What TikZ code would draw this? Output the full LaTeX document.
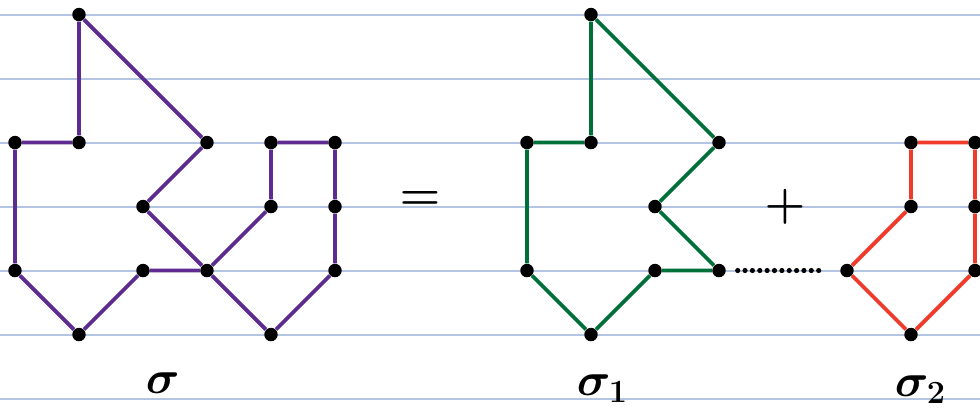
\documentclass[tikz,border=0pt]{standalone}
\usetikzlibrary{positioning}
\definecolor{ruleblue}{HTML}{B3C5E0}
\definecolor{pathpurple}{HTML}{5E2C91}
\definecolor{pathgreen}{HTML}{00703A}
\definecolor{pathred}{HTML}{EE3B2B}
\tikzset{
  ruleline/.style={draw=ruleblue, line width=0.9pt},
  vertex/.style={circle, fill=black, inner sep=0pt, minimum size=2.1mm},
  purpleedge/.style={draw=pathpurple, line width=1.7pt},
  greenedge/.style={draw=pathgreen, line width=1.7pt},
  rededge/.style={draw=pathred, line width=1.7pt},
  dotrow/.style={draw=black, line width=2.3pt, line cap=round,
    dash pattern=on 0pt off 0.115cm, shorten <=0.18cm, shorten >=0.27cm},
  bigsym/.style={font=\fontsize{22}{26}\selectfont\boldmath, inner sep=0pt}
}
\begin{document}
\begin{tikzpicture}[x=1cm, y=-1cm]
    \useasboundingbox (-0.234,-0.227) rectangle (15.078,6.195);

    % ruled paper
    \foreach \r in {0,...,6}
        \draw[ruleline] (-0.234,\r) -- (15.078,\r);

    % sigma
    \foreach \n/\x/\y in {sa/1/0, sb/1/2, sc/0/2, sd/0/4, se/1/5, sf/2/4, sg/3/4, sh/2/3,
                          si/3/2, sj/4/2, sk/5/2, sl/4/3, sm/5/3, sn/5/4, so/4/5}
        \node[vertex] (\n) at (\x,\y) {};
    \draw[purpleedge] (sa) -- (sb) -- (sc) -- (sd) -- (se) -- (sf) -- (sg);
    \draw[purpleedge] (sa) -- (si) -- (sh) -- (sg);
    \draw[purpleedge] (sg) -- (sl) -- (sj) -- (sk) -- (sm) -- (sn) -- (so) -- (sg);

    % sigma_1
    \foreach \n/\x/\y in {pa/9/0, pb/9/2, pc/8/2, pd/8/4, pe/9/5, pf/10/4, pg/11/4,
                          ph/10/3, pi/11/2}
        \node[vertex] (\n) at (\x,\y) {};
    \draw[greenedge] (pa) -- (pb) -- (pc) -- (pd) -- (pe) -- (pf) -- (pg);
    \draw[greenedge] (pa) -- (pi) -- (ph) -- (pg);

    % sigma_2
    \foreach \n/\x/\y in {qg/13/4, ql/14/3, qj/14/2, qk/15/2, qm/15/3, qn/15/4, qo/14/5}
        \node[vertex] (\n) at (\x,\y) {};
    \draw[rededge] (qg) -- (ql) -- (qj) -- (qk) -- (qm) -- (qn) -- (qo) -- (qg);

    \draw[dotrow] (pg) -- (qg);

    % labels
    \node[bigsym] (eq) at (6.33,2.91) {$=$};
    \node[bigsym] (plus) at (12.03,3.0) {$+$};
    \node[bigsym] (lsigma) at (2.31,5.76) {$\sigma$};
    \node[bigsym] (lsigmaone) at (9.18,5.84) {$\sigma_1$};
    \node[bigsym] (lsigmatwo) at (14.15,5.86) {$\sigma_2$};
\end{tikzpicture}
\end{document}
